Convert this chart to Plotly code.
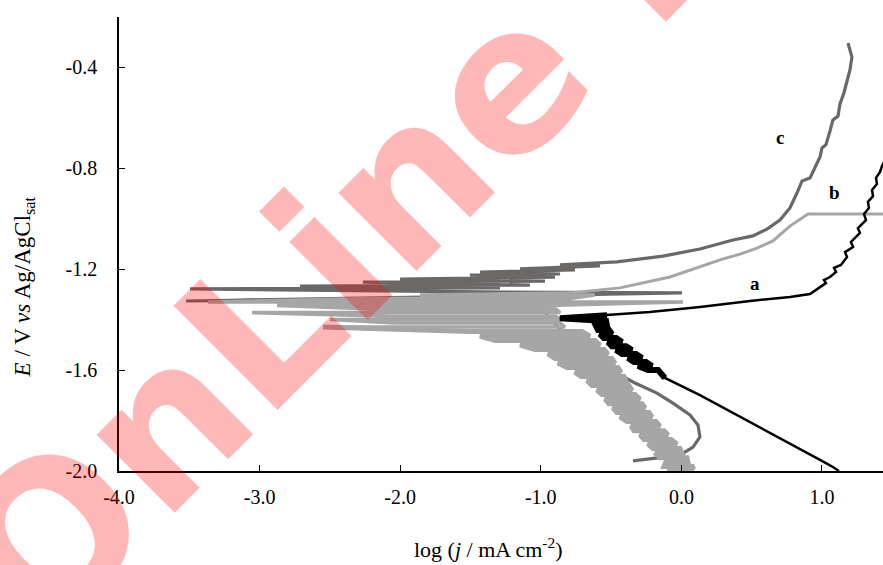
import plotly.graph_objects as go

# ---- data: log(j / mA cm^-2) and E / V ----
# curve a (black)
a_logj = [1.121, 1.078, 0.986, 0.844, 0.488, 0.132, -0.117,
          -0.166, -0.238, -0.309, -0.209, -0.252, -0.337, -0.380, -0.280, -0.323, -0.422,
          -0.465, -0.351, -0.394, -0.494, -0.522, -0.422, -0.465, -0.551, -0.579, -0.494,
          -0.515, -0.593, -0.607, -0.529, -0.536, -0.864,
          -0.529, -0.224, 0.132, 0.488, 0.772, 0.915,
          0.986, 1.028, 1.014, 1.057, 1.100, 1.086, 1.135, 1.178, 1.164, 1.221, 1.206, 1.270,
          1.256, 1.313, 1.299, 1.334, 1.327, 1.363, 1.356, 1.391, 1.384, 1.412, 1.427, 1.455]
a_E = [-2.000, -1.984, -1.956, -1.913, -1.806, -1.699, -1.631,
       -1.600, -1.600, -1.584, -1.584, -1.568, -1.568, -1.552, -1.552, -1.536, -1.536,
       -1.520, -1.520, -1.505, -1.505, -1.489, -1.489, -1.473, -1.473, -1.457, -1.457,
       -1.441, -1.441, -1.425, -1.425, -1.405, -1.394,
       -1.382, -1.370, -1.350, -1.326, -1.310, -1.298,
       -1.271, -1.255, -1.243, -1.231, -1.211, -1.195, -1.183, -1.152, -1.132, -1.112, -1.092, -1.056,
       -1.037, -1.005, -0.981, -0.957, -0.933, -0.910, -0.886, -0.862, -0.838, -0.815, -0.791, -0.759]
a_noise_start, a_noise_end = 6, 34   # noisy stretch around the corrosion potential

# curve b (light grey): noisy scan levels (E with low / high log j reached at that E)
b_noise_E = [-2.000, -1.982, -1.964, -1.947, -1.929, -1.911, -1.893, -1.875, -1.857, -1.840,
             -1.822, -1.804, -1.786, -1.768, -1.750, -1.733, -1.715, -1.697, -1.679, -1.661,
             -1.643, -1.625, -1.608, -1.590, -1.572, -1.554, -1.536, -1.518, -1.501, -1.483,
             -1.465, -1.447, -1.429, -1.413, -1.399, -1.386, -1.372, -1.358, -1.344, -1.330,
             -1.316, -1.302]
b_noise_low = [-0.102, -0.124, -0.110, -0.152, -0.188, -0.202, -0.238, -0.266, -0.294, -0.337,
               -0.358, -0.387, -0.437, -0.458, -0.487, -0.515, -0.543, -0.565, -0.600, -0.636,
               -0.671, -0.714, -0.757, -0.814, -0.878, -0.899, -0.949, -1.041, -1.148, -1.326,
               -1.433, -1.504, -2.549, -2.037, -2.499, -2.073, -3.054, -2.193, -2.876, -3.367,
               -2.193, -1.859]
b_noise_high = [0.061, 0.090, 0.047, 0.040, 0.004, -0.010, -0.031, -0.074, -0.095, -0.124,
                -0.152, -0.181, -0.209, -0.231, -0.259, -0.280, -0.294, -0.330, -0.351, -0.373,
                -0.394, -0.408, -0.430, -0.451, -0.472, -0.494, -0.522, -0.551, -0.579, -0.615,
                -0.650, -0.707, -0.828, -0.863, -0.863, -0.892, -0.863, -0.892, -0.949, 0.011,
                -0.792, -0.615]
b_streak_from = 32   # levels from here on are the long thin streaks near E_corr
# curve b anodic branch
b_anod_logj = [-0.792, -0.437, -0.081, 0.275, 0.417, 0.538, 0.651, 0.772, 0.900, 1.450]
b_anod_E = [-1.294, -1.274, -1.231, -1.163, -1.140, -1.116, -1.088, -1.029, -0.981, -0.981]

# curve c (dark grey)
c_logj = [-0.344, -0.174, -0.010, 0.083, 0.132, 0.118, 0.061, -0.060, -0.174, -0.330,
          -0.470, -0.620, -0.800, -0.950, -1.000,
          -1.148, -3.523, -1.290, 0.004, -1.432, -3.495, -1.290, -2.713, -1.077, -2.265,
          -0.970, -2.001, -0.899, -1.504, -0.863, -1.432, -0.757, -1.148, -0.579, -0.863,
          -0.458, -0.131, 0.132, 0.367, 0.509, 0.609, 0.701, 0.772, 0.822, 0.858,
          0.915, 0.950, 0.986, 1.000, 1.028, 1.057, 1.078, 1.114, 1.128, 1.156,
          1.178, 1.199, 1.213, 1.185]
c_E = [-1.960, -1.949, -1.937, -1.905, -1.865, -1.818, -1.778, -1.731, -1.691, -1.651,
       -1.610, -1.545, -1.470, -1.390, -1.322,
       -1.314, -1.326, -1.306, -1.294, -1.290, -1.278, -1.274, -1.267, -1.263, -1.251,
       -1.247, -1.239, -1.231, -1.223, -1.219, -1.211, -1.203, -1.199, -1.187, -1.183,
       -1.171, -1.148, -1.120, -1.084, -1.068, -1.041, -1.005, -0.957, -0.898, -0.850,
       -0.838, -0.799, -0.755, -0.719, -0.707, -0.652, -0.608, -0.593, -0.545, -0.501,
       -0.458, -0.410, -0.359, -0.303]

curve_labels = ["a", "b", "c"]
label_logj = [0.523, 1.092, 0.701]
label_E = [-1.255, -0.894, -0.676]

x_tickvals = [-4.0, -3.0, -2.0, -1.0, 0.0, 1.0]
x_ticktext = ["-4.0", "-3.0", "-2.0", "-1.0", "0.0", "1.0"]
y_tickvals = [-2.0, -1.6, -1.2, -0.8, -0.4]
y_ticktext = ["-2.0", "-1.6", "-1.2", "-0.8", "-0.4"]

# build the b scan path: at each noisy level the current swings between low and high
b_x, b_y = [], []
for i, (e, lo, hi) in enumerate(zip(b_noise_E, b_noise_low, b_noise_high)):
    pair = [lo, hi] if i % 2 == 0 else [hi, lo]
    b_x += pair
    b_y += [e, e]
b_x.append(b_anod_logj[0])
b_y.append(b_anod_E[0])
split = 2 * b_streak_from

SERIF = "Liberation Serif, Times New Roman, serif"

fig = go.Figure()
fig.add_trace(go.Scatter(x=c_logj, y=c_E, mode="lines",
                         line=dict(color="#6b6868", width=3.2), hoverinfo="skip"))
fig.add_trace(go.Scatter(x=b_x[:split + 1], y=b_y[:split + 1], mode="lines",
                         line=dict(color="#a6a6a6", width=5), hoverinfo="skip"))
fig.add_trace(go.Scatter(x=b_x[split:], y=b_y[split:], mode="lines",
                         line=dict(color="#a6a6a6", width=3.5), hoverinfo="skip"))
fig.add_trace(go.Scatter(x=b_anod_logj, y=b_anod_E, mode="lines",
                         line=dict(color="#a6a6a6", width=3), hoverinfo="skip"))
fig.add_trace(go.Scatter(x=a_logj, y=a_E, mode="lines",
                         line=dict(color="#000000", width=2.5), hoverinfo="skip"))
fig.add_trace(go.Scatter(x=a_logj[a_noise_start:a_noise_end], y=a_E[a_noise_start:a_noise_end],
                         mode="lines", line=dict(color="#000000", width=6), hoverinfo="skip"))

annotations = []
for t, xv, yv in zip(curve_labels, label_logj, label_E):
    annotations.append(dict(x=xv, y=yv, xref="x", yref="y", text="<b>%s</b>" % t,
                            showarrow=False, font=dict(family=SERIF, size=19, color="black")))

annotations.append(dict(x=-0.124, y=0.405, xref="paper", yref="paper",
                        text="<i>E</i> / V <i>vs</i> Ag/AgCl<sub>sat</sub>",
                        textangle=-90, showarrow=False, xanchor="center", yanchor="middle",
                        font=dict(family=SERIF, size=23, color="black")))
annotations.append(dict(x=0.483, y=-0.170, xref="paper", yref="paper",
                        text="log (<i>j</i> / mA cm<sup>-2</sup>)",
                        showarrow=False, xanchor="center", yanchor="middle",
                        font=dict(family=SERIF, size=22, color="black")))
# watermark
annotations.append(dict(x=0.476, y=0.803, xref="paper", yref="paper",
                        text="<b>OnLine First</b>", textangle=-45, showarrow=False,
                        xanchor="center", yanchor="middle",
                        font=dict(family="DejaVu Sans", size=202, color="rgba(255,0,0,0.28)")))

fig.update_layout(
    width=883, height=565,
    margin=dict(l=119, r=0, t=17, b=94),
    paper_bgcolor="white", plot_bgcolor="white",
    showlegend=False,
    annotations=annotations,
    xaxis=dict(range=[-4.0, 1.434], showgrid=False, zeroline=False,
               showline=True, linecolor="black", linewidth=1.5,
               ticks="inside", ticklen=6, tickcolor="black", tickwidth=1,
               tickvals=x_tickvals, ticktext=x_ticktext, ticklabelstandoff=7,
               tickfont=dict(family=SERIF, size=20, color="black")),
    yaxis=dict(range=[-2.0, -0.2], showgrid=False, zeroline=False,
               showline=True, linecolor="black", linewidth=1.5,
               ticks="inside", ticklen=6, tickcolor="black", tickwidth=1,
               tickvals=y_tickvals, ticktext=y_ticktext, ticklabelstandoff=16,
               tickfont=dict(family=SERIF, size=20, color="black")),
)

fig.write_html("out.html", config={"displayModeBar": False},
               post_script="document.body.style.margin='0';document.body.style.overflow='hidden';")
